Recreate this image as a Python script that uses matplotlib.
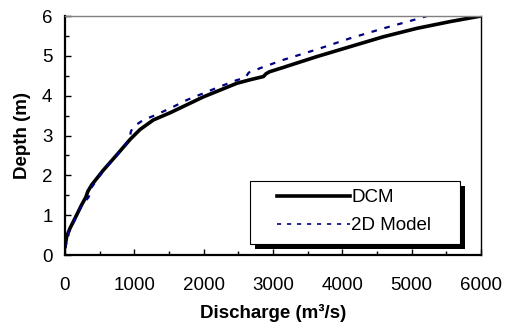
import matplotlib
matplotlib.use("Agg")
import matplotlib.pyplot as plt
from matplotlib.ticker import MultipleLocator
from matplotlib.patches import Rectangle

plt.rcParams['font.family'] = ['Liberation Sans', 'DejaVu Sans']

# DCM rating curve (discharge m3/s, depth m)
dcm_q = [0, 24, 72, 144, 240, 300, 330, 385, 553, 745, 938, 1082, 1274, 1515,
         1756, 1996, 2237, 2477, 2670, 2862, 2900, 2950, 3150, 3631, 4112,
         4594, 5075, 5556, 6000]
dcm_d = [0.21, 0.46, 0.67, 0.92, 1.26, 1.45, 1.60, 1.76, 2.13, 2.51, 2.90,
         3.15, 3.39, 3.57, 3.77, 3.97, 4.14, 4.31, 4.40, 4.48, 4.55, 4.60,
         4.71, 4.98, 5.23, 5.48, 5.69, 5.86, 6.00]

# 2D Model rating curve
m2d_q = [0, 20, 48, 144, 240, 340, 355, 385, 553, 745, 930, 950, 986, 1130,
         1274, 1515, 1756, 1996, 2237, 2477, 2600, 2650, 2718, 2814, 3150,
         3631, 4112, 4594, 5027, 5220]
m2d_d = [0.17, 0.30, 0.55, 0.90, 1.24, 1.45, 1.52, 1.70, 2.12, 2.50, 2.90,
         3.10, 3.22, 3.39, 3.49, 3.68, 3.89, 4.06, 4.23, 4.39, 4.45, 4.58,
         4.62, 4.69, 4.90, 5.16, 5.44, 5.69, 5.90, 6.00]

fig = plt.figure(figsize=(5.08, 3.29), dpi=100)
W, H = 508, 329
ax = fig.add_axes([65/W, 1-255/H, 416/W, 239/H])

ax.plot(dcm_q, dcm_d, color='black', lw=2.6, label='DCM', solid_joinstyle='round')
ax.plot(m2d_q, m2d_d, color='#000080', lw=1.6, ls=(0, (2.5, 3.5)), label='2D Model')

ax.set_xlim(0, 6000)
ax.set_ylim(0, 6)
ax.xaxis.set_major_locator(MultipleLocator(1000))
ax.xaxis.set_minor_locator(MultipleLocator(500))
ax.yaxis.set_major_locator(MultipleLocator(1))
ax.yaxis.set_minor_locator(MultipleLocator(0.5))
ax.tick_params(which='both', direction='in', labelsize=13.5, width=1.0)
ax.tick_params(which='major', length=4)
ax.tick_params(which='minor', length=3)
ax.tick_params(axis='x', which='major', pad=16)
ax.tick_params(axis='y', which='major', pad=9)

for s in ['left', 'bottom']:
    ax.spines[s].set_linewidth(1.6)
    ax.spines[s].set_color('black')
ax.spines['top'].set_color('#808080')
ax.spines['top'].set_linewidth(1.0)
ax.spines['right'].set_color('black')
ax.spines['right'].set_linewidth(1.0)

ax.set_xlabel('Discharge (m³/s)', fontsize=13.5, fontweight='bold', labelpad=7)
ax.set_ylabel('Depth (m)', fontsize=13.5, fontweight='bold', labelpad=8)

# legend frame with solid black drop shadow
bx0, bx1 = (250-65)/416, (460-65)/416
by0, by1 = (255-244)/239, (255-181)/239
sdx, sdy = 5/416, 5/239
ax.add_patch(Rectangle((bx0+sdx, by0-sdy), bx1-bx0, by1-by0, transform=ax.transAxes,
                       facecolor='black', edgecolor='black', lw=0, zorder=4.8))
ax.add_patch(Rectangle((bx0, by0), bx1-bx0, by1-by0, transform=ax.transAxes,
                       facecolor='white', edgecolor='black', lw=0.8, zorder=4.9))

leg = ax.legend(loc='upper left', bbox_to_anchor=((277-65)/416, (255-189)/239),
                borderaxespad=0, borderpad=0, fontsize=13.5, frameon=False,
                handlelength=3.9, handletextpad=0.05, labelspacing=0.58)
leg.set_zorder(5)
leg.get_lines()[1].set_linewidth(1.2)

fig.savefig('out.png', dpi=100)
